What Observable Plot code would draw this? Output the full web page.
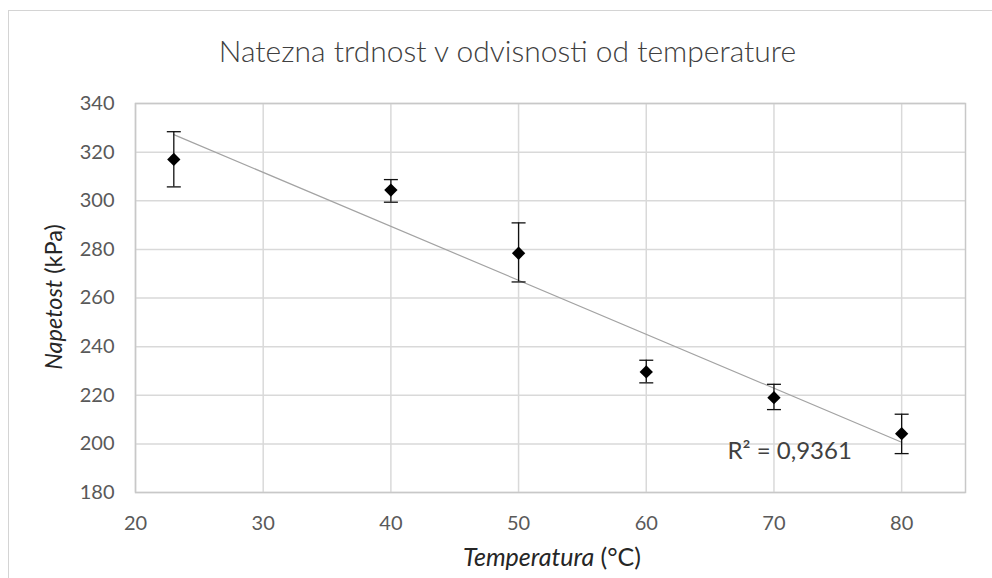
<!DOCTYPE html>
<html>
<head>
<meta charset="utf-8">
<script src="https://cdn.jsdelivr.net/npm/d3@7"></script>
<script src="https://cdn.jsdelivr.net/npm/@observablehq/plot@0.6"></script>
<style>
  html, body { margin: 0; padding: 0; background: #fff; overflow: hidden; }
  #wrap { position: relative; width: 992px; height: 578px; overflow: hidden; background: #fff; }
  #border { position: absolute; left: 8px; top: 10px; width: 1200px; height: 800px; border: 1px solid #d4d4d4; box-sizing: border-box; }
  #wrap svg { position: absolute; left: 0; top: 0; }
</style>
</head>
<body>
<div id="wrap"><div id="border"></div></div>
<script>
// ---- data ----
const temperatures = [23, 40, 50, 60, 70, 80];
const stressMean   = [317.0, 304.4, 278.4, 229.6, 219.0, 204.2];
const stressLow    = [305.7, 299.4, 266.6, 225.1, 214.1, 196.0];
const stressHigh   = [328.4, 308.7, 290.9, 234.4, 224.5, 212.2];
const xTicks = [20, 30, 40, 50, 60, 70, 80];
const yTicks = [180, 200, 220, 240, 260, 280, 300, 320, 340];
const chartTitle = "Natezna trdnost v odvisnosti od temperature";
const rSquaredLabel = "R² = 0,9361";
const yLabelItalic = "Napetost";
const yLabelRest = " (kPa)";
const xLabelItalic = "Temperatura";
const xLabelRest = " (°C)";

const data = temperatures.map((t, i) => ({
  t, mean: stressMean[i], low: stressLow[i], high: stressHigh[i]
}));

const FONT = "Lato, 'Open Sans', sans-serif";

// horizontal cap symbol for error bars
const capSymbol = {
  draw(context, size) {
    const w = Math.sqrt(size / Math.PI);
    context.moveTo(-w, 0);
    context.lineTo(w, 0);
  }
};

const chart = Plot.plot({
  width: 992,
  height: 578,
  marginLeft: 135,
  marginRight: 27,
  marginTop: 103,
  marginBottom: 86,
  style: { fontFamily: FONT, background: "transparent" },
  x: { domain: [20, 85] },
  y: { domain: [180, 340] },
  marks: [
    Plot.gridX(xTicks, { stroke: "#d9d9d9", strokeOpacity: 1, strokeWidth: 1.5 }),
    Plot.gridY(yTicks, { stroke: "#d9d9d9", strokeOpacity: 1, strokeWidth: 1.5 }),
    Plot.frame({ stroke: "#c8c8c8", strokeWidth: 1.5 }),
    Plot.linearRegressionY(data, { x: "t", y: "mean", ci: 0, stroke: "#a3a3a3", strokeWidth: 1.2 }),
    Plot.ruleX(data, { x: "t", y1: "low", y2: "high", stroke: "#111", strokeWidth: 1.3 }),
    Plot.dot(data, { x: "t", y: "low", symbol: capSymbol, r: 7, fill: "none", stroke: "#111", strokeWidth: 1.3 }),
    Plot.dot(data, { x: "t", y: "high", symbol: capSymbol, r: 7, fill: "none", stroke: "#111", strokeWidth: 1.3 }),
    Plot.dot(data, { x: "t", y: "mean", symbol: "diamond2", r: 6, fill: "#000", stroke: "none" }),
    Plot.axisX(xTicks, { tickSize: 0, tickPadding: 23, fontSize: 20, color: "#595959", label: null }),
    Plot.axisY(yTicks, { tickSize: 0, tickPadding: 21, fontSize: 20, color: "#595959", label: null }),
    Plot.text([rSquaredLabel], { frameAnchor: "bottom-right", dx: -238, dy: -34, textAnchor: "start", fontSize: 24, fill: "#404040" }),
    Plot.text([chartTitle], { frameAnchor: "top", dx: -43, dy: -63, fontSize: 30, fontWeight: 300, fill: "#404040" })
  ]
});

document.getElementById("wrap").appendChild(chart);

// axis titles with mixed italic / regular text
const svg = d3.select(chart);
const yl = svg.append("text")
  .attr("transform", "translate(62,297) rotate(-90)")
  .attr("text-anchor", "middle")
  .attr("font-family", FONT)
  .attr("font-size", 23.5)
  .attr("fill", "#262626");
yl.append("tspan").attr("font-style", "italic").text(yLabelItalic);
yl.append("tspan").text(yLabelRest);

const xl = svg.append("text")
  .attr("x", 552)
  .attr("y", 566)
  .attr("text-anchor", "middle")
  .attr("font-family", FONT)
  .attr("font-size", 25)
  .attr("fill", "#262626");
xl.append("tspan").attr("font-style", "italic").text(xLabelItalic);
xl.append("tspan").text(xLabelRest);
</script>
</body>
</html>
